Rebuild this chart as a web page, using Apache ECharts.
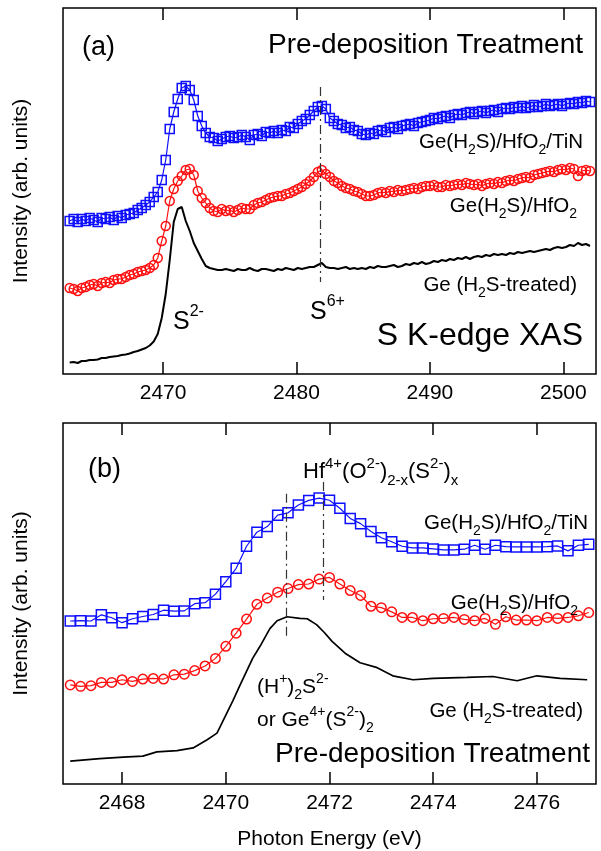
<!DOCTYPE html>
<html>
<head>
<meta charset="utf-8">
<script src="https://cdn.jsdelivr.net/npm/echarts@6/dist/echarts.min.js"></script>
<style>
  html, body { margin: 0; padding: 0; background: #fff; }
  #chart { width: 601px; height: 851px; }
</style>
</head>
<body>
<div id="chart"></div>
<script>
// ---- panel (a): S K-edge XAS, scan grid 2463.0 .. 2502.0 eV, 0.3 eV step ----
const energyA = Array.from({ length: 131 }, (_, i) => +(2463 + 0.3 * i).toFixed(1))
const ticksA = [2470, 2480, 2490, 2500]

const tinA = [
  153, 155, 152, 155, 153, 156, 154, 152, 156, 155,
  157, 154, 158, 156, 159, 160, 161, 164, 166, 169,
  172, 177, 182, 194, 214, 245, 262, 275, 286, 288,
  284, 274, 258, 248, 241, 237, 236, 233, 235, 237,
  238, 236, 237, 239, 237, 234, 239, 240, 238, 242,
  241, 243, 241, 244, 243, 247, 246, 250, 253, 255,
  259, 263, 267, 268, 265, 256, 253, 250, 249, 246,
  247, 244, 243, 240, 239, 241, 240, 243, 244, 242,
  246, 247, 245, 248, 249, 250, 248, 251, 252, 253,
  254, 256, 255, 257, 258, 256, 259, 260, 259, 261,
  262, 260, 262, 263, 261, 263, 264, 262, 265, 266,
  265, 267, 266, 268, 266, 267, 269, 267, 268, 270,
  268, 269, 270, 268, 270, 271, 270, 272, 271, 273,
  272
]
const hfoA = [
  86, 85, 83, 86, 87, 89, 90, 88, 91, 92,
  91, 94, 95, 95, 97, 99, 100, 102, 103, 104,
  106, 109, 116, 133, 148, 173, 185, 193, 198, 204,
  205, 199, 183, 176, 171, 166, 163, 162, 165, 163,
  164, 162, 164, 166, 165, 165, 169, 171, 172, 174,
  176, 177, 178, 178, 180, 181, 183, 185, 187, 190,
  193, 197, 202, 204, 200, 197, 193, 191, 188, 186,
  185, 183, 182, 180, 178, 178, 179, 181, 182, 181,
  183, 182, 184, 183, 184, 185, 186, 185, 187, 188,
  188, 189, 187, 187, 189, 188, 189, 190, 189, 191,
  190, 189, 190, 188, 190, 191, 190, 192, 191, 193,
  194, 193, 195, 196, 197, 196, 199, 200, 201, 202,
  203, 202, 204, 205, 204, 206, 205, 198, 203, 204,
  203
]
const geA = [
  11.5, 12, 11, 13, 13, 14, 14, 14.5, 16, 16,
  17, 17.5, 18, 19, 19.5, 20.5, 22, 23, 24.5, 26,
  28.5, 32.5, 40, 56, 80, 114, 152, 165, 167, 153,
  143, 131, 123, 115, 108, 106, 105, 104, 104, 105,
  104, 103, 105, 104, 104, 106, 104, 103, 105, 105,
  104, 103, 105, 104, 106, 105, 104, 106, 105, 106,
  107, 107, 109, 111, 107, 106, 106, 105, 106, 107,
  105, 106, 105, 106, 105, 107, 106, 108, 107, 107,
  108, 109, 107, 108, 110, 109, 111, 110, 112, 110,
  111, 113, 112, 114, 113, 115, 114, 116, 115, 117,
  115, 117, 118, 117, 119, 118, 120, 119, 120, 119,
  121, 120, 122, 121, 122, 123, 122, 123, 124, 125,
  124, 126, 127, 126, 127, 129, 128, 131, 129, 130,
  128
]
const markA = [2481.78]

// ---- panel (b): zoom on the S2- edge, 2467.0 .. 2477.0 eV, 0.2 eV step ----
const energyB = Array.from({ length: 51 }, (_, i) => +(2467 + 0.2 * i).toFixed(1))
const ticksB = [2468, 2470, 2472, 2474, 2476]

const tinB = [
  165.7, 166, 165.7, 172, 169, 164, 168, 170.3, 172.3, 176.7,
  175.7, 176, 183.3, 184.3, 193, 205.7, 219.3, 241.7, 256, 261.7,
  273.3, 275.7, 283.7, 288.3, 290.7, 288.5, 280.3, 270, 264.7, 256.7,
  250.3, 246.3, 241.7, 240, 240, 239, 238, 238, 238.7, 242.7,
  238.7, 242.7, 241.3, 241, 241, 241, 241.3, 242, 237, 242.7,
  243.7
]
const hfoB = [
  100.7, 99.3, 100, 103.3, 103.3, 106, 104.3, 106.7, 107.3, 106.7,
  111, 111.7, 115.3, 120, 127.7, 140, 153.3, 167.7, 182.7, 189,
  195, 198.7, 202.7, 203.3, 208.3, 210, 203.3, 196.7, 191.7, 180.7,
  179.3, 175, 169.3, 169.3, 166, 168, 168.3, 169.3, 167.3, 166,
  168.3, 162.3, 170, 166.7, 166.7, 166, 169.3, 168.3, 169.3, 171,
  174.3
]
const geEnergyB = [
  2467.0, 2467.57, 2468.02, 2468.40, 2468.67, 2469.06, 2469.37, 2469.64, 2469.83, 2470.14,
  2470.27, 2470.52, 2470.66, 2470.85, 2470.99, 2471.18, 2471.43, 2471.57, 2471.75, 2471.9,
  2472.05, 2472.3, 2472.59, 2472.92, 2473.22, 2473.61, 2474.0, 2474.65, 2475.15, 2475.62,
  2476.0, 2476.45, 2476.97
]
const geB = [
  23.3, 25.7, 27.3, 28.3, 32.7, 34, 36.7, 45, 51.7, 85,
  100, 128, 140, 158, 166, 170, 168.3, 168, 162, 154,
  145, 133, 123.3, 118.3, 110, 106, 107.3, 108.3, 109.3, 105,
  110, 107.3, 106
]
const markB = [2471.17, 2471.87]

const FONT = 'Liberation Sans, Arial, sans-serif'
const BLUE = '#0f0fff'
const RED = '#ff1010'

const zip = (xs, ys) => ys.map((y, i) => [xs[i], y])

const chart = echarts.init(document.getElementById('chart'))

function xAxes(grid, min, max, ticks, withName) {
  const tick = { show: true, inside: true, length: 12, customValues: ticks, lineStyle: { color: '#000', width: 1.5 } }
  return [
    {
      gridIndex: grid, type: 'value', min: min, max: max, position: 'bottom',
      axisLine: { show: false }, splitLine: { show: false },
      axisTick: tick,
      axisLabel: {
        customValues: ticks, fontSize: 21, color: '#000', fontFamily: FONT, margin: 9,
        formatter: v => v.toFixed(0)
      },
      name: withName ? 'Photon Energy (eV)' : '',
      nameLocation: 'middle', nameGap: 45,
      nameTextStyle: { fontSize: 21, color: '#000', fontFamily: FONT }
    },
    {
      gridIndex: grid, type: 'value', min: min, max: max, position: 'top',
      axisLine: { show: false }, splitLine: { show: false },
      axisTick: tick, axisLabel: { show: false }
    }
  ]
}

function yAxis(grid, max) {
  return {
    gridIndex: grid, type: 'value', min: 0, max: max,
    axisLine: { show: false }, axisTick: { show: false }, axisLabel: { show: false },
    splitLine: { show: false },
    name: 'Intensity (arb. units)', nameLocation: 'middle', nameGap: 31,
    nameTextStyle: { fontSize: 21, color: '#000', fontFamily: FONT }
  }
}

function markers(name, xi, yi, data, symbol, size, color) {
  return {
    name: name, type: 'line', xAxisIndex: xi, yAxisIndex: yi, data: data,
    symbol: symbol, symbolSize: size, showAllSymbol: true,
    itemStyle: { color: 'rgba(255,255,255,0)', borderColor: color, borderWidth: 1.5 },
    lineStyle: { color: color, width: 1.2 },
    emphasis: { disabled: true }
  }
}

function dashLines(segs) {
  return {
    silent: true, symbol: ['none', 'none'], label: { show: false },
    lineStyle: { color: '#333', width: 1.2, type: [9, 4, 2, 4] },
    data: segs.map(s => [{ coord: [s[0], s[1]] }, { coord: [s[0], s[2]] }])
  }
}

const rich = (main, small) => ({
  n: { fontSize: main, fontFamily: FONT, color: '#000', lineHeight: Math.round(main * 1.45), verticalAlign: 'middle' },
  b: { fontSize: small, fontFamily: FONT, color: '#000', lineHeight: small, verticalAlign: 'bottom' },
  t: { fontSize: small, fontFamily: FONT, color: '#000', lineHeight: small, verticalAlign: 'top' }
})

function label(text, x, y, align, main, small) {
  return {
    type: 'text', x: x, y: y, z: 100,
    style: {
      text: text, rich: rich(main, small || Math.round(main * 0.68)),
      align: align, verticalAlign: 'middle',
      textAlign: align, textVerticalAlign: 'middle',
      font: main + 'px ' + FONT, fill: '#000'
    }
  }
}

const option = {
  animation: false,
  backgroundColor: '#fff',
  grid: [
    { left: 63, top: 8, width: 533, height: 366, show: true, borderColor: '#000', borderWidth: 1.5, backgroundColor: 'transparent' },
    { left: 63, top: 423, width: 533, height: 367, show: true, borderColor: '#000', borderWidth: 1.5, backgroundColor: 'transparent' }
  ],
  xAxis: [
    ...xAxes(0, 2462.5, 2502.45, ticksA, false),
    ...xAxes(1, 2466.86, 2477.14, ticksB, true)
  ],
  yAxis: [yAxis(0, 366), yAxis(1, 367)],
  series: [
    markers('Ge(H2S)/HfO2/TiN', 0, 0, zip(energyA, tinA), 'rect', 9, BLUE),
    markers('Ge(H2S)/HfO2', 0, 0, zip(energyA, hfoA), 'circle', 9, RED),
    {
      name: 'Ge (H2S-treated)', type: 'line', xAxisIndex: 0, yAxisIndex: 0,
      data: zip(energyA, geA), showSymbol: false,
      lineStyle: { color: '#000', width: 2 },
      markLine: dashLines([[markA[0], 287, 92]])
    },
    markers('Ge(H2S)/HfO2/TiN', 2, 1, zip(energyB, tinB), 'rect', 10, BLUE),
    markers('Ge(H2S)/HfO2', 2, 1, zip(energyB, hfoB), 'circle', 9.5, RED),
    {
      name: 'Ge (H2S-treated)', type: 'line', xAxisIndex: 2, yAxisIndex: 1,
      data: zip(geEnergyB, geB), showSymbol: false,
      lineStyle: { color: '#000', width: 1.7 },
      markLine: dashLines([[markB[0], 295, 150], [markB[1], 307, 187]])
    }
  ],
  graphic: [
    label('{n|(a)}', 82, 48, 'left', 27),
    label('{n|Pre-deposition Treatment}', 583, 45, 'right', 28),
    label('{n|Ge(H}{b|2}{n|S)/HfO}{b|2}{n|/TiN}', 583, 142, 'right', 20.5, 14),
    label('{n|Ge(H}{b|2}{n|S)/HfO}{b|2}', 577, 206, 'right', 20.5, 14),
    label('{n|Ge (H}{b|2}{n|S-treated)}', 577, 285, 'right', 20.5, 14),
    label('{n|S}{t|2-}', 173, 322, 'left', 25, 16),
    label('{n|S}{t|6+}', 310, 312, 'left', 25, 16),
    label('{n|S K-edge XAS}', 583, 336, 'right', 32),

    label('{n|(b)}', 88, 470, 'left', 27),
    label('{n|Hf}{t|4+}{n|(O}{t|2-}{n|)}{b|2-x}{n|(S}{t|2-}{n|)}{b|x}', 303, 472, 'left', 22, 15),
    label('{n|Ge(H}{b|2}{n|S)/HfO}{b|2}{n|/TiN}', 588, 523, 'right', 20.5, 14),
    label('{n|Ge(H}{b|2}{n|S)/HfO}{b|2}', 578, 603, 'right', 20.5, 14),
    label('{n|(H}{t|+}{n|)}{b|2}{n|S}{t|2-}', 257, 687, 'left', 21, 14),
    label('{n|or Ge}{t|4+}{n|(S}{t|2-}{n|)}{b|2}', 257, 720, 'left', 21, 14),
    label('{n|Ge (H}{b|2}{n|S-treated)}', 583, 711, 'right', 20.5, 14),
    label('{n|Pre-deposition Treatment}', 590, 754, 'right', 28)
  ]
}

chart.setOption(option)
</script>
</body>
</html>
